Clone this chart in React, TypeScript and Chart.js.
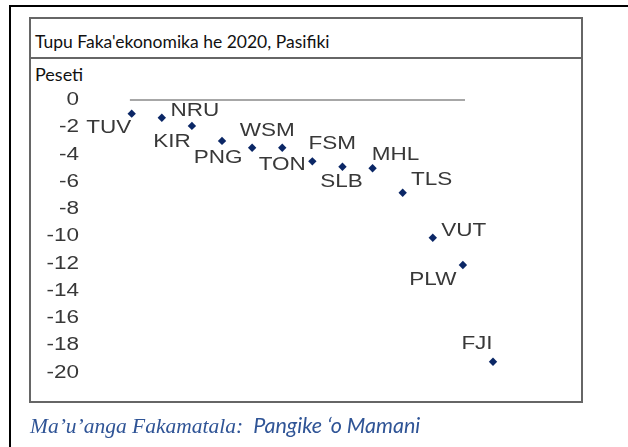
import React, { useEffect, useRef } from "react";
import { Chart, registerables } from "chart.js";

Chart.register(...registerables);

const categories = ["TUV", "NRU", "KIR", "PNG", "WSM", "TON", "FSM", "SLB", "MHL", "TLS", "VUT", "PLW", "FJI"];
const growth = [-1.0, -1.3, -1.9, -3.0, -3.5, -3.5, -4.5, -4.9, -5.0, -6.8, -10.1, -12.1, -19.2];
const yTicks = [0, -2, -4, -6, -8, -10, -12, -14, -16, -18, -20];
const zeroLineRange = [-0.06, 11.07];

const titleText = "Tupu Faka'ekonomika he 2020, Pasifiki";
const unitText = "Peseti";
const sourceLabel = "Ma’u’anga Fakamatala:";
const sourceText = "Pangike ‘o Mamani";

// label placement (px offsets of label centre from its point) – styling only
const labelOffsets: [number, number][] = [
  [-23, 14], [33, -7], [-20, 16], [-4, 17], [15, -17], [0, 17], [20, -17],
  [-1, 15], [23, -13], [29, -13], [31, -7], [-30, 15], [-16, -18],
];

const TEXT_FONT = '18px "Liberation Sans", Arial, sans-serif';
const STRETCH = 1.25;

const textPlugin = {
  id: "stretchedText",
  afterDatasetsDraw(chart: any) {
    const ctx = chart.ctx;
    const y = chart.scales.y;
    ctx.save();
    ctx.fillStyle = "#383838";
    ctx.font = TEXT_FONT;
    ctx.textBaseline = "middle";
    // y tick labels
    ctx.textAlign = "right";
    yTicks.forEach((v) => {
      ctx.save();
      ctx.translate(79, y.getPixelForValue(v));
      ctx.scale(STRETCH, 1);
      ctx.fillText(String(v), 0, 0);
      ctx.restore();
    });
    // data labels
    ctx.textAlign = "center";
    const meta = chart.getDatasetMeta(1);
    meta.data.forEach((pt: any, i: number) => {
      const [dx, dy] = labelOffsets[i];
      ctx.save();
      ctx.translate(pt.x + dx, pt.y + dy);
      ctx.scale(STRETCH, 1);
      ctx.fillText(categories[i], 0, 0);
      ctx.restore();
    });
    ctx.restore();
  },
};

export default function App() {
  const canvasRef = useRef<HTMLCanvasElement | null>(null);

  useEffect(() => {
    if (!canvasRef.current) return;
    const chart = new Chart(canvasRef.current, {
      type: "scatter",
      data: {
        datasets: [
          {
            type: "line",
            data: zeroLineRange.map((x) => ({ x, y: 0 })),
            borderColor: "#8a8a8a",
            borderWidth: 1.5,
            pointRadius: 0,
            clip: false,
          } as any,
          {
            data: growth.map((v, i) => ({ x: i, y: v })),
            backgroundColor: "#0b2766",
            borderColor: "#0b2766",
            pointStyle: "rectRot",
            pointRadius: 4.2,
            borderWidth: 0,
            clip: false,
          } as any,
        ],
      },
      options: {
        animation: false,
        responsive: false,
        maintainAspectRatio: false,
        layout: { padding: { left: 131.7, right: 135, top: 100, bottom: 74.3 } },
        plugins: { legend: { display: false }, tooltip: { enabled: false } },
        scales: {
          x: { type: "linear", min: 0, max: 12, display: false },
          y: { type: "linear", min: -20, max: 0, display: false },
        },
      },
      plugins: [textPlugin],
    });
    return () => chart.destroy();
  }, []);

  return (
    <div style={{ position: "absolute", left: 0, top: 0, width: 628, height: 447, overflow: "hidden", background: "#fff" }}>
      <div style={{ position: "absolute", left: 9, top: 5, width: 700, height: 500, border: "2px solid #000" }} />
      <div style={{ position: "absolute", left: 29, top: 17, width: 554, height: 386, boxSizing: "border-box", border: "2px solid #666" }} />
      <div style={{ position: "absolute", left: 29, top: 57, width: 554, height: 2, background: "#666" }} />
      <div style={{ position: "absolute", left: 35, top: 31, lineHeight: "22px", fontFamily: "Lato, 'Open Sans', sans-serif", fontSize: 17.5, color: "#111", whiteSpace: "nowrap" }}>
        {titleText}
      </div>
      <div style={{ position: "absolute", left: 35, top: 63, lineHeight: "22px", fontFamily: "Lato, 'Open Sans', sans-serif", fontSize: 18, color: "#111" }}>
        {unitText}
      </div>
      <canvas ref={canvasRef} width={628} height={447} style={{ position: "absolute", left: 0, top: 0, width: 628, height: 447 }} />
      <div style={{ position: "absolute", left: 30, top: 412, lineHeight: "26px", whiteSpace: "nowrap", color: "#2f5496" }}>
        <span style={{ fontFamily: "'Liberation Serif', serif", fontStyle: "italic", fontSize: 21.5 }}>{sourceLabel}</span>
        <span style={{ fontFamily: "Lato, 'Open Sans', sans-serif", fontStyle: "italic", fontSize: 21.5 }}>{"\u00a0\u00a0" + sourceText}</span>
      </div>
    </div>
  );
}
